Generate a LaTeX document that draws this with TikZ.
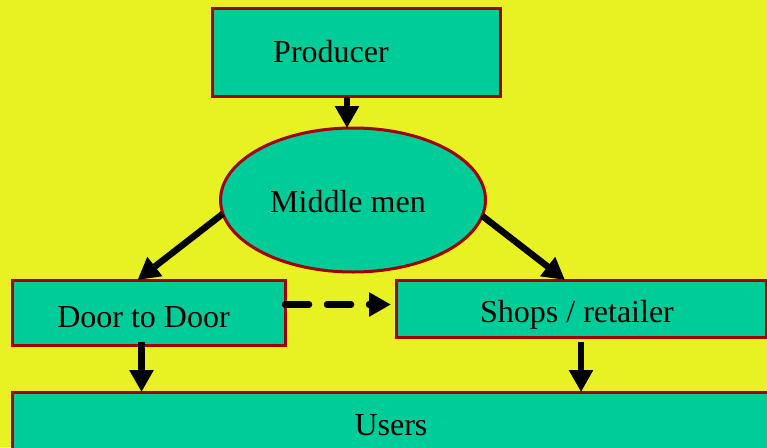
\documentclass[tikz,border=0pt]{standalone}
\usepackage{fontspec}
\setmainfont{Liberation Serif}
\usetikzlibrary{arrows.meta,shapes.geometric,positioning}

\definecolor{bgyel}{RGB}{232,241,34}
\definecolor{teal}{RGB}{0,204,153}
\definecolor{edge}{RGB}{160,0,0}

\tikzset{
  box/.style = {draw=edge, fill=teal, line width=3pt, outer sep=0pt, inner sep=0pt},
  oval/.style = {box, ellipse, minimum width=265pt, minimum height=144pt},
  txt/.style = {font=\fontsize{32}{38}\selectfont, text height=22.4pt, text depth=8pt, inner sep=0pt},
  arr/.style = {line width=6.5pt, -{Triangle[length=22pt, width=23pt]}},
}

\begin{document}
\begin{tikzpicture}[x=1pt, y=-1pt]
        \fill[bgyel] (0,0) rectangle (767,447);
        \useasboundingbox (0,0) rectangle (767,447);
        \begin{scope}
          \clip (0,0) rectangle (767,447);

          \node[box, minimum width=288pt, minimum height=88pt,
                label={[txt, xshift=-25pt, yshift=-3pt]center:Producer}] (prod) at (356,52.5) {};
          \node[oval, below=31.5pt of prod, xshift=-3pt,
                label={[txt, xshift=-5pt, yshift=-5pt]center:Middle men}] (mid) {};

          \node[box, minimum width=273pt, minimum height=65pt,
                label={[txt, xshift=-5pt, yshift=-8pt]center:Door to Door}] (door) at (148.5,312.5) {};
          \node[box, minimum width=370pt, minimum height=57pt,
                label={[txt, xshift=-4pt, yshift=-7pt]center:Shops / retailer}] (shop) at (581,308.5) {};

          \node[box, minimum width=758pt, minimum height=64pt,
                label={[txt, yshift=-4pt]center:Users}] (users) at (391,424) {};

          \draw[arr] ([xshift=-9pt]prod.south) -- ([xshift=-6pt]mid.north);
          \draw[arr] (mid.186) -- ([xshift=-11pt]door.north);
          \draw[arr] (mid.-7) -- ([xshift=-16pt]shop.north);
          \draw[arr, line cap=round, dash pattern=on 24pt off 18pt]
            ([yshift=8pt]door.east) -- ([xshift=-5pt, yshift=4pt]shop.west);
          \draw[arr] ([xshift=-7pt, yshift=3pt]door.south) -- ([xshift=-7pt]door.south |- users.north);
          \draw[arr] ([yshift=-5pt]shop.south) -- (shop.south |- users.north);
        \end{scope}
      \end{tikzpicture}
\end{document}
